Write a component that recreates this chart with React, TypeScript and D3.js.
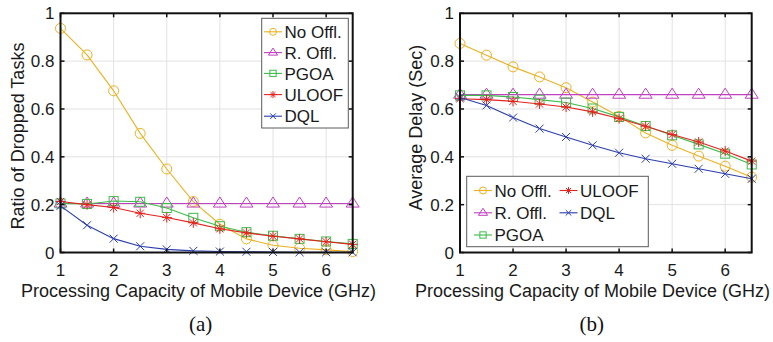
import * as d3 from 'd3';

const capacity = [1, 1.5, 2, 2.5, 3, 3.5, 4, 4.5, 5, 5.5, 6, 6.5];
const xTicks = [1, 2, 3, 4, 5, 6];
const yTicks = [0, 0.2, 0.4, 0.6, 0.8, 1];

const seriesNames = ['No Offl.', 'R. Offl.', 'PGOA', 'ULOOF', 'DQL'];
const seriesColors = ['#EDB120', '#C040C0', '#3DBB4A', '#E4231E', '#2B3EAD'];
const seriesMarkers = ['circle', 'triangle', 'square', 'star', 'x'];

// (a) ratio of dropped tasks
const dropNoOffl = [0.937, 0.826, 0.676, 0.498, 0.349, 0.213, 0.118, 0.057, 0.03, 0.018, 0.011, 0.004];
const dropROffl = [0.205, 0.205, 0.205, 0.205, 0.205, 0.205, 0.205, 0.205, 0.205, 0.205, 0.205, 0.205];
const dropPGOA = [0.205, 0.203, 0.215, 0.212, 0.186, 0.145, 0.11, 0.085, 0.07, 0.057, 0.046, 0.036];
const dropULOOF = [0.213, 0.2, 0.188, 0.164, 0.146, 0.124, 0.099, 0.082, 0.068, 0.057, 0.045, 0.034];
const dropDQL = [0.195, 0.114, 0.058, 0.026, 0.013, 0.007, 0.004, 0.003, 0.002, 0.001, 0.001, 0.001];

// (b) average delay
const delayNoOffl = [0.874, 0.825, 0.776, 0.734, 0.689, 0.629, 0.569, 0.5, 0.448, 0.403, 0.361, 0.315];
const delayROffl = [0.66, 0.66, 0.66, 0.66, 0.66, 0.66, 0.66, 0.66, 0.66, 0.66, 0.66, 0.66];
const delayPGOA = [0.657, 0.657, 0.65, 0.639, 0.627, 0.602, 0.567, 0.529, 0.49, 0.452, 0.413, 0.368];
const delayULOOF = [0.643, 0.639, 0.632, 0.621, 0.608, 0.588, 0.56, 0.528, 0.493, 0.462, 0.424, 0.382];
const delayDQL = [0.648, 0.615, 0.564, 0.518, 0.483, 0.448, 0.417, 0.392, 0.371, 0.35, 0.329, 0.308];

const SANS = '"Liberation Sans", Arial, Helvetica, sans-serif';

function Marker({ type, x, y, color, s = 1 }) {
  const common = { fill: 'none', stroke: color, strokeWidth: 1 };
  if (type === 'circle') return <circle cx={x} cy={y} r={5 * s} {...common} />;
  if (type === 'triangle') {
    const p = `${x},${y - 6.5 * s} ${x + 6.5 * s},${y + 3.6 * s} ${x - 6.5 * s},${y + 3.6 * s}`;
    return <polygon points={p} {...common} />;
  }
  if (type === 'square') {
    const h = 4.5 * s;
    return <rect x={x - h} y={y - h} width={2 * h} height={2 * h} {...common} />;
  }
  if (type === 'star') {
    const r = 5 * s;
    const d = r * 0.72;
    return (
      <path
        d={`M${x - r},${y}H${x + r}M${x},${y - r}V${y + r}M${x - d},${y - d}L${x + d},${y + d}M${x - d},${y + d}L${x + d},${y - d}`}
        {...common}
      />
    );
  }
  const r = 4 * s;
  return <path d={`M${x - r},${y - r}L${x + r},${y + r}M${x - r},${y + r}L${x + r},${y - r}`} {...common} />;
}

function Panel({ left, right, series, yTitle, yTitleX, yTitleY, xTitleX, legend }) {
  const top = 13.3;
  const bottom = 252.5;
  const x = d3.scaleLinear().domain([1, 6.5]).range([left, right]);
  const y = d3.scaleLinear().domain([0, 1]).range([bottom, top]);
  const line = d3
    .line<number>()
    .x((_, i) => x(capacity[i]))
    .y((d) => y(d));

  return (
    <g fontFamily={SANS}>
      {/* grid */}
      {xTicks.map((t) => (
        <line key={'gx' + t} x1={x(t)} x2={x(t)} y1={top} y2={bottom} stroke="#e2e2e2" />
      ))}
      {yTicks.map((t) => (
        <line key={'gy' + t} x1={left} x2={right} y1={y(t)} y2={y(t)} stroke="#e2e2e2" />
      ))}

      {/* series */}
      {series.map((vals, k) => (
        <g key={k}>
          <path d={line(vals)} fill="none" stroke={seriesColors[k]} strokeWidth={1.1} />
          {vals.map((v, i) => (
            <Marker key={i} type={seriesMarkers[k]} x={x(capacity[i])} y={y(v)} color={seriesColors[k]} />
          ))}
        </g>
      ))}

      {/* axes box and inward ticks */}
      <rect x={left} y={top} width={right - left} height={bottom - top} fill="none" stroke="#111" strokeWidth={2} />
      {xTicks.map((t) => (
        <g key={'tx' + t}>
          <line x1={x(t)} x2={x(t)} y1={bottom} y2={bottom - 4} stroke="#111" strokeWidth={1.5} />
          <line x1={x(t)} x2={x(t)} y1={top} y2={top + 4} stroke="#111" strokeWidth={1.5} />
          <text x={x(t)} y={275.5} textAnchor="middle" fontSize={17} fill="#1a1a1a">
            {t}
          </text>
        </g>
      ))}
      {yTicks.map((t) => (
        <g key={'ty' + t}>
          <line x1={left} x2={left + 4} y1={y(t)} y2={y(t)} stroke="#111" strokeWidth={1.5} />
          <line x1={right} x2={right - 4} y1={y(t)} y2={y(t)} stroke="#111" strokeWidth={1.5} />
          <text x={left - 6} y={y(t)} dy="0.36em" textAnchor="end" fontSize={17} fill="#1a1a1a">
            {t}
          </text>
        </g>
      ))}

      <text x={xTitleX} y={296.5} textAnchor="middle" fontSize={18} fill="#1a1a1a">
        Processing Capacity of Mobile Device (GHz)
      </text>
      <text
        transform={`translate(${yTitleX},${yTitleY}) rotate(-90)`}
        textAnchor="middle"
        fontSize={18}
        fill="#1a1a1a"
      >
        {yTitle}
      </text>

      {/* legend */}
      <rect
        x={legend.box[0]}
        y={legend.box[1]}
        width={legend.box[2]}
        height={legend.box[3]}
        fill="#fff"
        stroke="#5a5a5a"
        strokeWidth={1}
      />
      {legend.items.map(([k, lx, ly]) => (
        <g key={'lg' + k}>
          <line x1={lx} x2={lx + 18} y1={ly} y2={ly} stroke={seriesColors[k]} strokeWidth={1.1} />
          <Marker type={seriesMarkers[k]} x={lx + 9} y={ly} color={seriesColors[k]} s={0.7} />
          <text x={lx + 20.5} y={ly} dy="0.36em" fontSize={17} fill="#1a1a1a">
            {seriesNames[k]}
          </text>
        </g>
      ))}
    </g>
  );
}

export default function App() {
  const legendA = {
    box: [261.7, 18.3, 86.6, 109.7],
    items: [
      [0, 264, 31.8],
      [1, 264, 52.6],
      [2, 264, 73.4],
      [3, 264, 94.6],
      [4, 264, 116.2],
    ],
  };
  const legendB = {
    box: [466.7, 176.3, 181.6, 70.4],
    items: [
      [0, 474, 190.5],
      [1, 474, 212.8],
      [2, 474, 235],
      [3, 559.5, 190.5],
      [4, 559.5, 212.8],
    ],
  };

  return (
    <svg
      width={773}
      height={342}
      style={{ position: 'absolute', left: 0, top: 0, background: '#fff' }}
    >
      <Panel
        left={60.5}
        right={352.7}
        series={[dropNoOffl, dropROffl, dropPGOA, dropULOOF, dropDQL]}
        yTitle="Ratio of Dropped Tasks"
        yTitleX={23.5}
        yTitleY={136}
        xTitleX={198.5}
        legend={legendA}
      />
      <Panel
        left={460}
        right={751.7}
        series={[delayNoOffl, delayROffl, delayPGOA, delayULOOF, delayDQL]}
        yTitle="Average Delay (Sec)"
        yTitleX={422}
        yTitleY={127.5}
        xTitleX={592.5}
        legend={legendB}
      />
      <text x={200.7} y={331} textAnchor="middle" fontSize={21} fontFamily='"Liberation Serif", "Times New Roman", serif' fill="#111">
        (a)
      </text>
      <text x={591.7} y={331} textAnchor="middle" fontSize={21} fontFamily='"Liberation Serif", "Times New Roman", serif' fill="#111">
        (b)
      </text>
    </svg>
  );
}
